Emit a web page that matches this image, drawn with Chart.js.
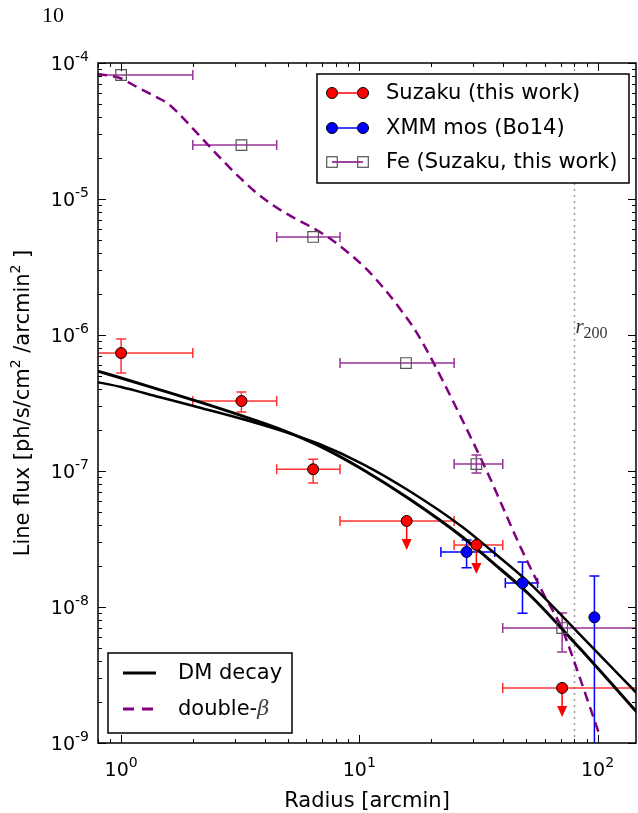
<!DOCTYPE html>
<html>
<head>
<meta charset="utf-8">
<title>Line flux vs radius</title>
<script src="https://cdn.jsdelivr.net/npm/chart.js"></script>
<style>
  html, body { margin: 0; padding: 0; background: #fff; overflow: hidden; }
  #wrap { width: 638px; height: 813px; }
  canvas { display: block; }
</style>
</head>
<body>
<div id="wrap"><canvas id="fluxChart" width="638" height="813"></canvas></div>
<script>
// axis limits
const X_MIN = 0.8, X_MAX = 145, Y_MIN = 1e-9, Y_MAX = 1e-4;

// tick labels (10^exp)
const xMajorTicks = [1, 10, 100];
const xMajorExps = ['0', '1', '2'];
const yMajorTicks = [1e-9, 1e-8, 1e-7, 1e-6, 1e-5, 1e-4];
const yMajorExps = ['-9', '-8', '-7', '-6', '-5', '-4'];

// Suzaku (this work)
const suzakuR = [1.0, 3.2, 6.4, 15.8, 31, 71];
const suzakuFlux = [7.37e-7, 3.27e-7, 1.03e-7, 4.29e-8, 2.86e-8, 2.54e-9];
const suzakuRLo = [0.5, 2.0, 4.5, 8.3, 25, 40];
const suzakuRHi = [2.0, 4.5, 8.3, 25, 40, 300];
const suzakuFluxLo = [5.26e-7, 2.71e-7, 8.16e-8, null, null, null];
const suzakuFluxHi = [9.35e-7, 3.81e-7, 1.22e-7, null, null, null];
const suzakuUpperLimit = [false, false, false, true, true, true];

// XMM mos (Bo14)
const xmmR = [28.2, 48.4, 97];
const xmmFlux = [2.54e-8, 1.5e-8, 8.4e-9];
const xmmRLo = [22, 41, 97];
const xmmRHi = [37, 56, 97];
const xmmFluxLo = [1.94e-8, 9.0e-9, 1e-10];
const xmmFluxHi = [3.11e-8, 2.14e-8, 1.69e-8];

// Fe (Suzaku, this work)
const feR = [1.0, 3.2, 6.4, 15.7, 31, 71];
const feFlux = [8.16e-5, 2.49e-5, 5.26e-6, 6.22e-7, 1.125e-7, 7.0e-9];
const feRLo = [0.5, 2.0, 4.5, 8.3, 25, 40];
const feRHi = [2.0, 4.5, 8.3, 25, 40, 300];
const feFluxLo = [null, null, null, null, 9.66e-8, 4.67e-9];
const feFluxHi = [null, null, null, null, 1.31e-7, 9.04e-9];

// double-beta model (dashed)
const betaR = [0.793, 0.89, 1.0, 1.167, 1.376, 1.561, 1.753, 2.026, 2.343, 2.709, 3.132, 3.622, 4.394, 5.332,
  6.284, 7.479, 8.905, 10.7, 12.74, 14.73, 17.03, 19.68, 22.76, 26.31, 30.42, 35.18, 40.67, 47.02, 58.17,
  71.27, 84.02, 101.9];
const betaFlux = [8.3e-5, 8.09e-5, 7.69e-5, 6.66e-5, 5.72e-5, 5.08e-5, 4.22e-5, 3.22e-5, 2.45e-5, 1.87e-5,
  1.45e-5, 1.145e-5, 8.88e-6, 7.25e-6, 6.22e-6, 5.16e-6, 4.08e-6, 3.06e-6, 2.18e-6, 1.58e-6, 1.106e-6,
  7.13e-7, 4.36e-7, 2.62e-7, 1.553e-7, 9.04e-8, 5.08e-8, 2.86e-8, 1.334e-8, 6.77e-9, 3.06e-9, 1.145e-9];

// DM decay models (two solid curves)
const dmR = [0.793, 1.0, 1.444, 2.127, 3.224, 4.612, 6.79, 10.29, 16.23, 27.09, 35.18, 51.8, 84.0, 147.3];
const dmFluxA = [5.44e-7, 4.83e-7, 3.97e-7, 3.22e-7, 2.54e-7, 2.04e-7, 1.53e-7, 1.03e-7, 6.22e-8, 3.27e-8,
  2.22e-8, 1.23e-8, 4.99e-9, 1.66e-9];
const dmFluxB = [4.51e-7, 4.15e-7, 3.5e-7, 2.93e-7, 2.41e-7, 2.0e-7, 1.58e-7, 1.13e-7, 7.13e-8, 3.88e-8,
  2.67e-8, 1.5e-8, 6.33e-9, 2.29e-9];

// r200
const r200 = 80;

const RED = '#ff0000', BLUE = '#0000ff', PURPLE = '#800080';
const SANS = '"DejaVu Sans", sans-serif';

function pts(xs, ys) {
    return xs.map((v, i) => ({ x: v, y: ys[i] }));
}

// text with a superscript part: pieces = [[text, size, rise], ...]
function piecesWidth(ctx, pieces) {
    let w = 0;
    pieces.forEach(p => { ctx.font = p[1] + 'px ' + SANS; w += ctx.measureText(p[0]).width; });
    return w;
}
function drawPieces(ctx, pieces, x, y) {
    pieces.forEach(p => {
        ctx.font = p[1] + 'px ' + SANS;
        ctx.fillText(p[0], x, y - p[2]);
        x += ctx.measureText(p[0]).width;
    });
}

function drawErrorBars(ctx, sx, sy, xs, ys, xlo, xhi, ylo, yhi, color) {
    ctx.strokeStyle = color;
    ctx.lineWidth = 1.5;
    const cap = 5;
    xs.forEach((xv, i) => {
        const px = sx.getPixelForValue(xv), py = sy.getPixelForValue(ys[i]);
        ctx.beginPath();
        if (xlo[i] !== xhi[i]) {
            const a = sx.getPixelForValue(xlo[i]), b = sx.getPixelForValue(xhi[i]);
            ctx.moveTo(a, py); ctx.lineTo(b, py);
            ctx.moveTo(a, py - cap); ctx.lineTo(a, py + cap);
            ctx.moveTo(b, py - cap); ctx.lineTo(b, py + cap);
        }
        if (ylo[i] != null) {
            const a = sy.getPixelForValue(ylo[i]), b = sy.getPixelForValue(yhi[i]);
            ctx.moveTo(px, a); ctx.lineTo(px, b);
            ctx.moveTo(px - cap, a); ctx.lineTo(px + cap, a);
            ctx.moveTo(px - cap, b); ctx.lineTo(px + cap, b);
        }
        ctx.stroke();
    });
}

function drawArrow(ctx, px, py, color) {
    ctx.strokeStyle = color;
    ctx.fillStyle = color;
    ctx.lineWidth = 1.5;
    ctx.beginPath();
    ctx.moveTo(px, py); ctx.lineTo(px, py + 20);
    ctx.stroke();
    ctx.beginPath();
    ctx.moveTo(px - 5, py + 18); ctx.lineTo(px + 5, py + 18); ctx.lineTo(px, py + 29);
    ctx.closePath();
    ctx.fill();
}

function circleMarker(ctx, x, y, fill) {
    ctx.beginPath();
    ctx.arc(x, y, 5.5, 0, Math.PI * 2);
    ctx.fillStyle = fill; ctx.fill();
    ctx.lineWidth = 1; ctx.strokeStyle = '#000'; ctx.stroke();
}
function squareMarker(ctx, x, y) {
    ctx.lineWidth = 1.2; ctx.strokeStyle = '#555';
    ctx.strokeRect(x - 5.3, y - 5.3, 10.6, 10.6);
}

const overlay = {
    id: 'overlay',
    beforeDatasetsDraw(chart) {
        const { ctx, chartArea: a, scales: { x, y } } = chart;
        ctx.save();
        ctx.beginPath();
        ctx.rect(a.left, a.top, a.right - a.left, a.bottom - a.top);
        ctx.clip();

        // r200 dotted line
        const rx = Math.round(x.getPixelForValue(r200)) + 0.5;
        ctx.strokeStyle = '#999';
        ctx.lineWidth = 1.5;
        ctx.setLineDash([2, 4]);
        ctx.beginPath(); ctx.moveTo(rx, a.top); ctx.lineTo(rx, a.bottom); ctx.stroke();
        ctx.setLineDash([]);

        drawErrorBars(ctx, x, y, feR, feFlux, feRLo, feRHi, feFluxLo, feFluxHi, 'rgba(128,0,128,0.8)');
        drawErrorBars(ctx, x, y, suzakuR, suzakuFlux, suzakuRLo, suzakuRHi, suzakuFluxLo, suzakuFluxHi, 'rgba(255,0,0,0.8)');
        drawErrorBars(ctx, x, y, xmmR, xmmFlux, xmmRLo, xmmRHi, xmmFluxLo, xmmFluxHi, BLUE);
        suzakuR.forEach((r, i) => {
            if (suzakuUpperLimit[i]) drawArrow(ctx, x.getPixelForValue(r), y.getPixelForValue(suzakuFlux[i]), RED);
        });
        ctx.restore();
    },
    afterDatasetsDraw(chart) {
        const { ctx, chartArea: a, scales: { x, y } } = chart;
        ctx.save();

        // r200 label
        const rx = x.getPixelForValue(r200);
        ctx.fillStyle = '#333';
        ctx.textBaseline = 'alphabetic';
        ctx.font = 'italic 21px "Liberation Serif", serif';
        ctx.fillText('r', rx + 1, 333);
        ctx.font = '16px "Liberation Serif", serif';
        ctx.fillText('200', rx + 9, 338);

        // frame
        ctx.strokeStyle = '#000';
        ctx.lineWidth = 1.5;
        ctx.strokeRect(a.left, a.top, a.right - a.left, a.bottom - a.top);

        // ticks (inside, all four sides)
        ctx.lineWidth = 1;
        ctx.beginPath();
        const xLo = Math.floor(Math.log10(X_MIN)), xHi = Math.ceil(Math.log10(X_MAX));
        for (let k = xLo; k <= xHi; k++) {
            for (let m = 1; m <= 9; m++) {
                const v = m * Math.pow(10, k);
                if (v < X_MIN || v > X_MAX) continue;
                const px = Math.round(x.getPixelForValue(v)) + 0.5;
                const len = m === 1 ? 8 : 4;
                ctx.moveTo(px, a.bottom); ctx.lineTo(px, a.bottom - len);
                ctx.moveTo(px, a.top); ctx.lineTo(px, a.top + len);
            }
        }
        const yLo = Math.floor(Math.log10(Y_MIN)), yHi = Math.ceil(Math.log10(Y_MAX));
        for (let k = yLo; k <= yHi; k++) {
            for (let m = 1; m <= 9; m++) {
                const v = m * Math.pow(10, k);
                if (v < Y_MIN * 0.999 || v > Y_MAX * 1.001) continue;
                const py = Math.round(y.getPixelForValue(v)) + 0.5;
                const len = m === 1 ? 8 : 4;
                ctx.moveTo(a.left, py); ctx.lineTo(a.left + len, py);
                ctx.moveTo(a.right, py); ctx.lineTo(a.right - len, py);
            }
        }
        ctx.stroke();

        // tick labels
        ctx.fillStyle = '#000';
        ctx.textAlign = 'left';
        ctx.textBaseline = 'alphabetic';
        xMajorTicks.forEach((v, i) => {
            const pieces = [['10', 19, 0], [xMajorExps[i], 14, 9]];
            const w = piecesWidth(ctx, pieces);
            drawPieces(ctx, pieces, x.getPixelForValue(v) - w / 2, a.bottom + 33);
        });
        yMajorTicks.forEach((v, i) => {
            const pieces = [['10', 19, 0], [yMajorExps[i], 14, 9]];
            const w = piecesWidth(ctx, pieces);
            drawPieces(ctx, pieces, a.left - 9 - w, y.getPixelForValue(v) + 7);
        });

        // axis titles
        ctx.font = '21px ' + SANS;
        ctx.textAlign = 'center';
        ctx.fillText('Radius [arcmin]', (a.left + a.right) / 2, 807);

        const yl = [['Line flux [ph/s/cm', 21, 0], ['2', 14, 9], [' /arcmin', 21, 0], ['2', 14, 9], [' ]', 21, 0]];
        ctx.save();
        ctx.translate(29, (a.top + a.bottom) / 2);
        ctx.rotate(-Math.PI / 2);
        ctx.textAlign = 'left';
        const ylw = piecesWidth(ctx, yl);
        drawPieces(ctx, yl, -ylw / 2, 0);
        ctx.restore();

        // legend: data points
        ctx.fillStyle = '#fff';
        ctx.fillRect(317, 74, 312, 109);
        ctx.strokeStyle = '#000';
        ctx.lineWidth = 1.5;
        ctx.strokeRect(317, 74, 312, 109);
        const rowsTop = [
            { label: 'Suzaku (this work)', color: RED, kind: 'circle', y: 93 },
            { label: 'XMM mos (Bo14)', color: BLUE, kind: 'circle', y: 128 },
            { label: 'Fe (Suzaku, this work)', color: PURPLE, kind: 'square', y: 162 }
        ];
        rowsTop.forEach(r => {
            ctx.strokeStyle = r.color;
            ctx.lineWidth = 1.5;
            ctx.beginPath(); ctx.moveTo(332, r.y); ctx.lineTo(363, r.y); ctx.stroke();
            if (r.kind === 'circle') {
                circleMarker(ctx, 332, r.y, r.color);
                circleMarker(ctx, 363, r.y, r.color);
            } else {
                squareMarker(ctx, 332, r.y);
                squareMarker(ctx, 363, r.y);
            }
            ctx.fillStyle = '#000';
            ctx.font = '21px ' + SANS;
            ctx.textAlign = 'left';
            ctx.textBaseline = 'middle';
            ctx.fillText(r.label, 386, r.y + 1);
        });

        // legend: models
        ctx.fillStyle = '#fff';
        ctx.fillRect(108, 653, 184, 80);
        ctx.strokeStyle = '#000';
        ctx.lineWidth = 1.5;
        ctx.strokeRect(108, 653, 184, 80);
        ctx.lineWidth = 3;
        ctx.strokeStyle = '#000';
        ctx.beginPath(); ctx.moveTo(123, 673); ctx.lineTo(156, 673); ctx.stroke();
        ctx.strokeStyle = PURPLE;
        ctx.setLineDash([11, 8]);
        ctx.beginPath(); ctx.moveTo(123, 709); ctx.lineTo(156, 709); ctx.stroke();
        ctx.setLineDash([]);
        ctx.fillStyle = '#000';
        ctx.font = '21px ' + SANS;
        ctx.fillText('DM decay', 178, 674);
        ctx.fillText('double-', 178, 710);
        const dw = ctx.measureText('double-').width;
        ctx.font = 'italic 21px "DejaVu Serif", serif';
        ctx.fillStyle = '#444';
        ctx.fillText('\u03B2', 178 + dw, 710);

        // stray page number at top
        ctx.fillStyle = '#000';
        ctx.textBaseline = 'alphabetic';
        ctx.font = '22px "Liberation Serif", serif';
        ctx.fillText('10', 42, 22);

        ctx.restore();
    }
};

new Chart(document.getElementById('fluxChart').getContext('2d'), {
    type: 'line',
    data: {
        datasets: [
            {
                label: 'Suzaku (this work)',
                data: pts(suzakuR, suzakuFlux),
                showLine: false,
                pointRadius: 5.5,
                pointBackgroundColor: RED,
                pointBorderColor: '#000',
                pointBorderWidth: 1
            },
            {
                label: 'XMM mos (Bo14)',
                data: pts(xmmR, xmmFlux),
                showLine: false,
                pointRadius: 5.5,
                pointBackgroundColor: BLUE,
                pointBorderColor: '#000',
                pointBorderWidth: 1
            },
            {
                label: 'Fe (Suzaku, this work)',
                data: pts(feR, feFlux),
                showLine: false,
                pointStyle: 'rect',
                pointRadius: 7.5,
                pointBackgroundColor: 'rgba(0,0,0,0)',
                pointBorderColor: '#555',
                pointBorderWidth: 1.2
            },
            {
                label: 'DM decay',
                data: pts(dmR, dmFluxA),
                borderColor: '#000',
                borderWidth: 3,
                pointRadius: 0,
                cubicInterpolationMode: 'monotone'
            },
            {
                label: 'DM decay 2',
                data: pts(dmR, dmFluxB),
                borderColor: '#000',
                borderWidth: 2.5,
                pointRadius: 0,
                cubicInterpolationMode: 'monotone'
            },
            {
                label: 'double-beta',
                data: pts(betaR, betaFlux),
                borderColor: PURPLE,
                borderWidth: 2.5,
                borderDash: [10, 6],
                pointRadius: 0,
                cubicInterpolationMode: 'monotone'
            }
        ]
    },
    options: {
        responsive: false,
        animation: false,
        layout: { autoPadding: false, padding: { left: 98, right: 2, top: 63, bottom: 70 } },
        plugins: {
            legend: { display: false },
            tooltip: { enabled: false }
        },
        scales: {
            x: { type: 'logarithmic', min: X_MIN, max: X_MAX, display: false },
            y: { type: 'logarithmic', min: Y_MIN, max: Y_MAX, display: false }
        }
    },
    plugins: [overlay]
});
</script>
</body>
</html>
